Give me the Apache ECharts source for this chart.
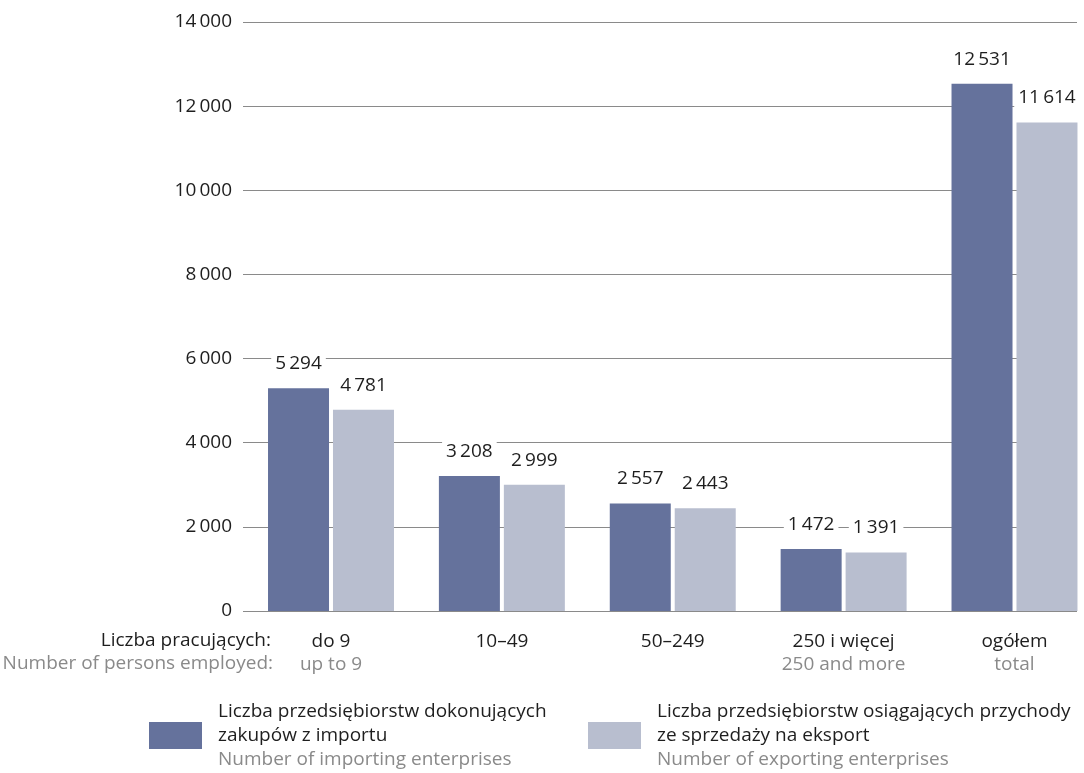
<!DOCTYPE html>
<html>
<head>
<meta charset="utf-8">
<script src="https://cdn.jsdelivr.net/npm/echarts@6/dist/echarts.min.js"></script>
<style>
html,body{margin:0;padding:0;background:#fff;}
#chart{width:1084px;height:773px;}
</style>
</head>
<body>
<div id="chart"></div>
<script>
const categoriesPL = ['do 9', '10–49', '50–249', '250 i więcej', 'ogółem'];
const categoriesEN = ['up to 9', '', '', '250 and more', 'total'];
const importing = [5294, 3208, 2557, 1472, 12531];
const exporting = [4781, 2999, 2443, 1391, 11614];
const seriesNamePL = ['Liczba przedsiębiorstw dokonujących\nzakupów z importu', 'Liczba przedsiębiorstw osiągających przychody\nze sprzedaży na eksport'];
const seriesNameEN = ['Number of importing enterprises', 'Number of exporting enterprises'];
const axisTitlePL = 'Liczba pracujących:';
const axisTitleEN = 'Number of persons employed:';
const yMin = 0, yMax = 14000, yStep = 2000;

const FONT = 'Open Sans';
const FS = 19;
const DARK = '#1e1e1e';
const GRAY = '#8a8a8a';
const C1 = '#65729c';
const C2 = '#b8becf';

function fmt(v) {
  return String(v).replace(/\B(?=(\d{3})+(?!\d))/g, '\u2009');
}

const names = [seriesNamePL[0].replace('\n', ' '), seriesNamePL[1].replace('\n', ' ')];

function legendFormatter(name) {
  const i = names.indexOf(name);
  const pl = seriesNamePL[i].split('\n');
  return '{a|' + pl[0] + '}\n{a|' + pl[1] + '}\n{b|' + seriesNameEN[i] + '}';
}

const legendText = {
  fontFamily: FONT,
  fontSize: FS,
  padding: [0, 0, 0, 11],
  rich: {
    a: { fontFamily: FONT, fontSize: FS, color: DARK, lineHeight: 24 },
    b: { fontFamily: FONT, fontSize: FS, color: GRAY, lineHeight: 24 }
  }
};

const chart = echarts.init(document.getElementById('chart'), null, { renderer: 'canvas' });

const barLabel = {
  show: true,
  position: 'top',
  distance: 14,
  formatter: p => fmt(p.value),
  fontFamily: FONT,
  fontSize: FS,
  color: DARK,
  backgroundColor: '#fff',
  padding: [1, 4]
};

chart.setOption({
  animation: false,
  backgroundColor: '#fff',
  grid: [
    { left: 243, right: 7, top: 22, bottom: 162 },
    { left: 331, right: 69.5, top: 22, bottom: 162 }
  ],
  xAxis: [
    { type: 'category', gridIndex: 0, data: categoriesPL, show: false },
    {
      type: 'category', gridIndex: 1, data: categoriesPL, boundaryGap: false,
      axisLine: { show: false }, axisTick: { show: false }, splitLine: { show: false },
      axisLabel: {
        margin: 19,
        interval: 0,
        formatter: (v, i) => '{a|' + v + '}\n{b|' + (categoriesEN[i] || ' ') + '}',
        rich: {
          a: { fontFamily: FONT, fontSize: FS, color: DARK, lineHeight: 23 },
          b: { fontFamily: FONT, fontSize: FS, color: GRAY, lineHeight: 23 }
        }
      }
    }
  ],
  yAxis: [
    {
      type: 'value', gridIndex: 0, min: yMin, max: yMax, interval: yStep,
      axisLine: { show: false }, axisTick: { show: false },
      axisLabel: { margin: 11, formatter: v => fmt(v), fontFamily: FONT, fontSize: FS, color: DARK },
      splitLine: { show: true, lineStyle: { color: '#8a8a8a', width: 1.2 } }
    },
    {
      type: 'value', gridIndex: 1, min: yMin, max: yMax, interval: yStep,
      show: false, splitLine: { show: false }
    }
  ],
  legend: [
    {
      data: [names[0]], left: 149, top: 702, padding: 0,
      itemWidth: 53, itemHeight: 27, icon: 'rect', selectedMode: false,
      formatter: legendFormatter, textStyle: legendText
    },
    {
      data: [names[1]], left: 588, top: 702, padding: 0,
      itemWidth: 53, itemHeight: 27, icon: 'rect', selectedMode: false,
      formatter: legendFormatter, textStyle: legendText
    }
  ],
  graphic: [
    {
      type: 'text', x: 271, y: 641, silent: true,
      style: { text: axisTitlePL, align: 'right', verticalAlign: 'middle', fontFamily: FONT, fontSize: FS, fill: DARK }
    },
    {
      type: 'text', x: 273, y: 664, silent: true,
      style: { text: axisTitleEN, align: 'right', verticalAlign: 'middle', fontFamily: FONT, fontSize: FS, fill: GRAY }
    }
  ],
  series: [
    {
      name: names[0], type: 'bar', xAxisIndex: 1, yAxisIndex: 1, clip: false,
      data: importing, barWidth: 61, barGap: '6.5%',
      itemStyle: { color: C1 }, label: barLabel, z: 3
    },
    {
      name: names[1], type: 'bar', xAxisIndex: 1, yAxisIndex: 1, clip: false,
      data: exporting, barWidth: 61, barGap: '6.5%',
      itemStyle: { color: C2 }, label: barLabel, z: 3
    }
  ]
});
</script>
</body>
</html>
